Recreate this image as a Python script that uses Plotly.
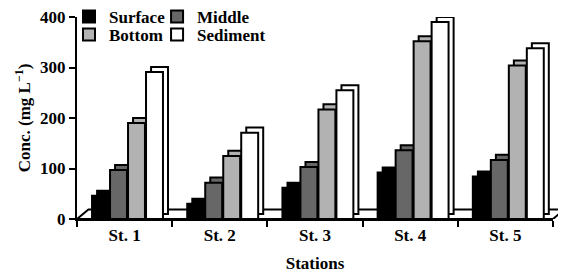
import plotly.graph_objects as go

stations = ["St. 1", "St. 2", "St. 3", "St. 4", "St. 5"]
series_names = ["Surface", "Middle", "Bottom", "Sediment"]
surface = [46, 30, 62, 92, 84]
middle = [97, 72, 103, 136, 117]
bottom = [190, 125, 217, 352, 304]
sediment = [291, 171, 255, 390, 338]
y_ticks = [0, 100, 200, 300, 400]

values = [surface, middle, bottom, sediment]
fills = ["#000000", "#676767", "#b2b2b2", "#ffffff"]
legend_ids = ["legend", "legend2", "legend3", "legend4"]

# geometry of the pseudo-3D bars (in axis units)
bar_w = 0.178
pitch = 0.189
start = -0.342
dx = 0.053
dy = 10

fig = go.Figure()
for j, (name, vals, col) in enumerate(zip(series_names, values, fills)):
    off = start + j * pitch
    # back (depth) part
    fig.add_trace(go.Bar(
        x=stations, y=vals, base=[dy] * len(vals), offset=off + dx, width=bar_w,
        marker=dict(color=col, line=dict(color="black", width=2)),
        showlegend=False, hoverinfo="skip", cliponaxis=False,
    ))
    # front face
    fig.add_trace(go.Bar(
        x=stations, y=vals, name=name, offset=off, width=bar_w,
        marker=dict(color=col, line=dict(color="black", width=2)),
        legend=legend_ids[j], cliponaxis=False,
    ))

# floor parallelogram
fdx = 0.024
fdy = 19
fig.add_shape(type="path", xref="paper", yref="y", layer="below",
              path=f"M 0 0 L {fdx} {fdy} L {1 + fdx} {fdy} L 1 0 Z",
              fillcolor="white", line=dict(color="black", width=2))

family = "Liberation Serif"
font = dict(family=family, size=17, color="black", weight="bold")


def leg(x, y):
    return dict(orientation="h", x=x, xanchor="left", yref="paper", y=y, yanchor="middle",
                font=font, bgcolor="rgba(0,0,0,0)", indentation=-8, tracegroupgap=0)


fig.update_layout(
    width=566, height=275,
    margin=dict(l=69, r=21, t=9, b=64, autoexpand=False),
    paper_bgcolor="white", plot_bgcolor="white",
    barmode="overlay",
    font=font,
    xaxis=dict(
        type="category", range=[-0.5, 4.5], showline=True, linecolor="black", linewidth=2,
        ticks="outside", tickson="boundaries", ticklen=6, tickwidth=2, tickcolor="black",
        showgrid=False, zeroline=False, tickfont=font,
        title=dict(text="Stations", font=font, standoff=13),
    ),
    yaxis=dict(
        range=[0, 400], tickvals=y_ticks, showline=True, linecolor="black", linewidth=2,
        ticks="outside", ticklen=6, tickwidth=2, tickcolor="black",
        showgrid=False, zeroline=False, tickfont=font, ticklabeloverflow="allow",
        title=dict(text="Conc. (mg L<sup>\u22121</sup>)", font=font, standoff=5),
    ),
    legend=leg(0.0, 1.0),
    legend2=leg(0.185, 1.0),
    legend3=leg(0.0, 0.911),
    legend4=leg(0.185, 0.911),
)

fig.write_html("out.html")
